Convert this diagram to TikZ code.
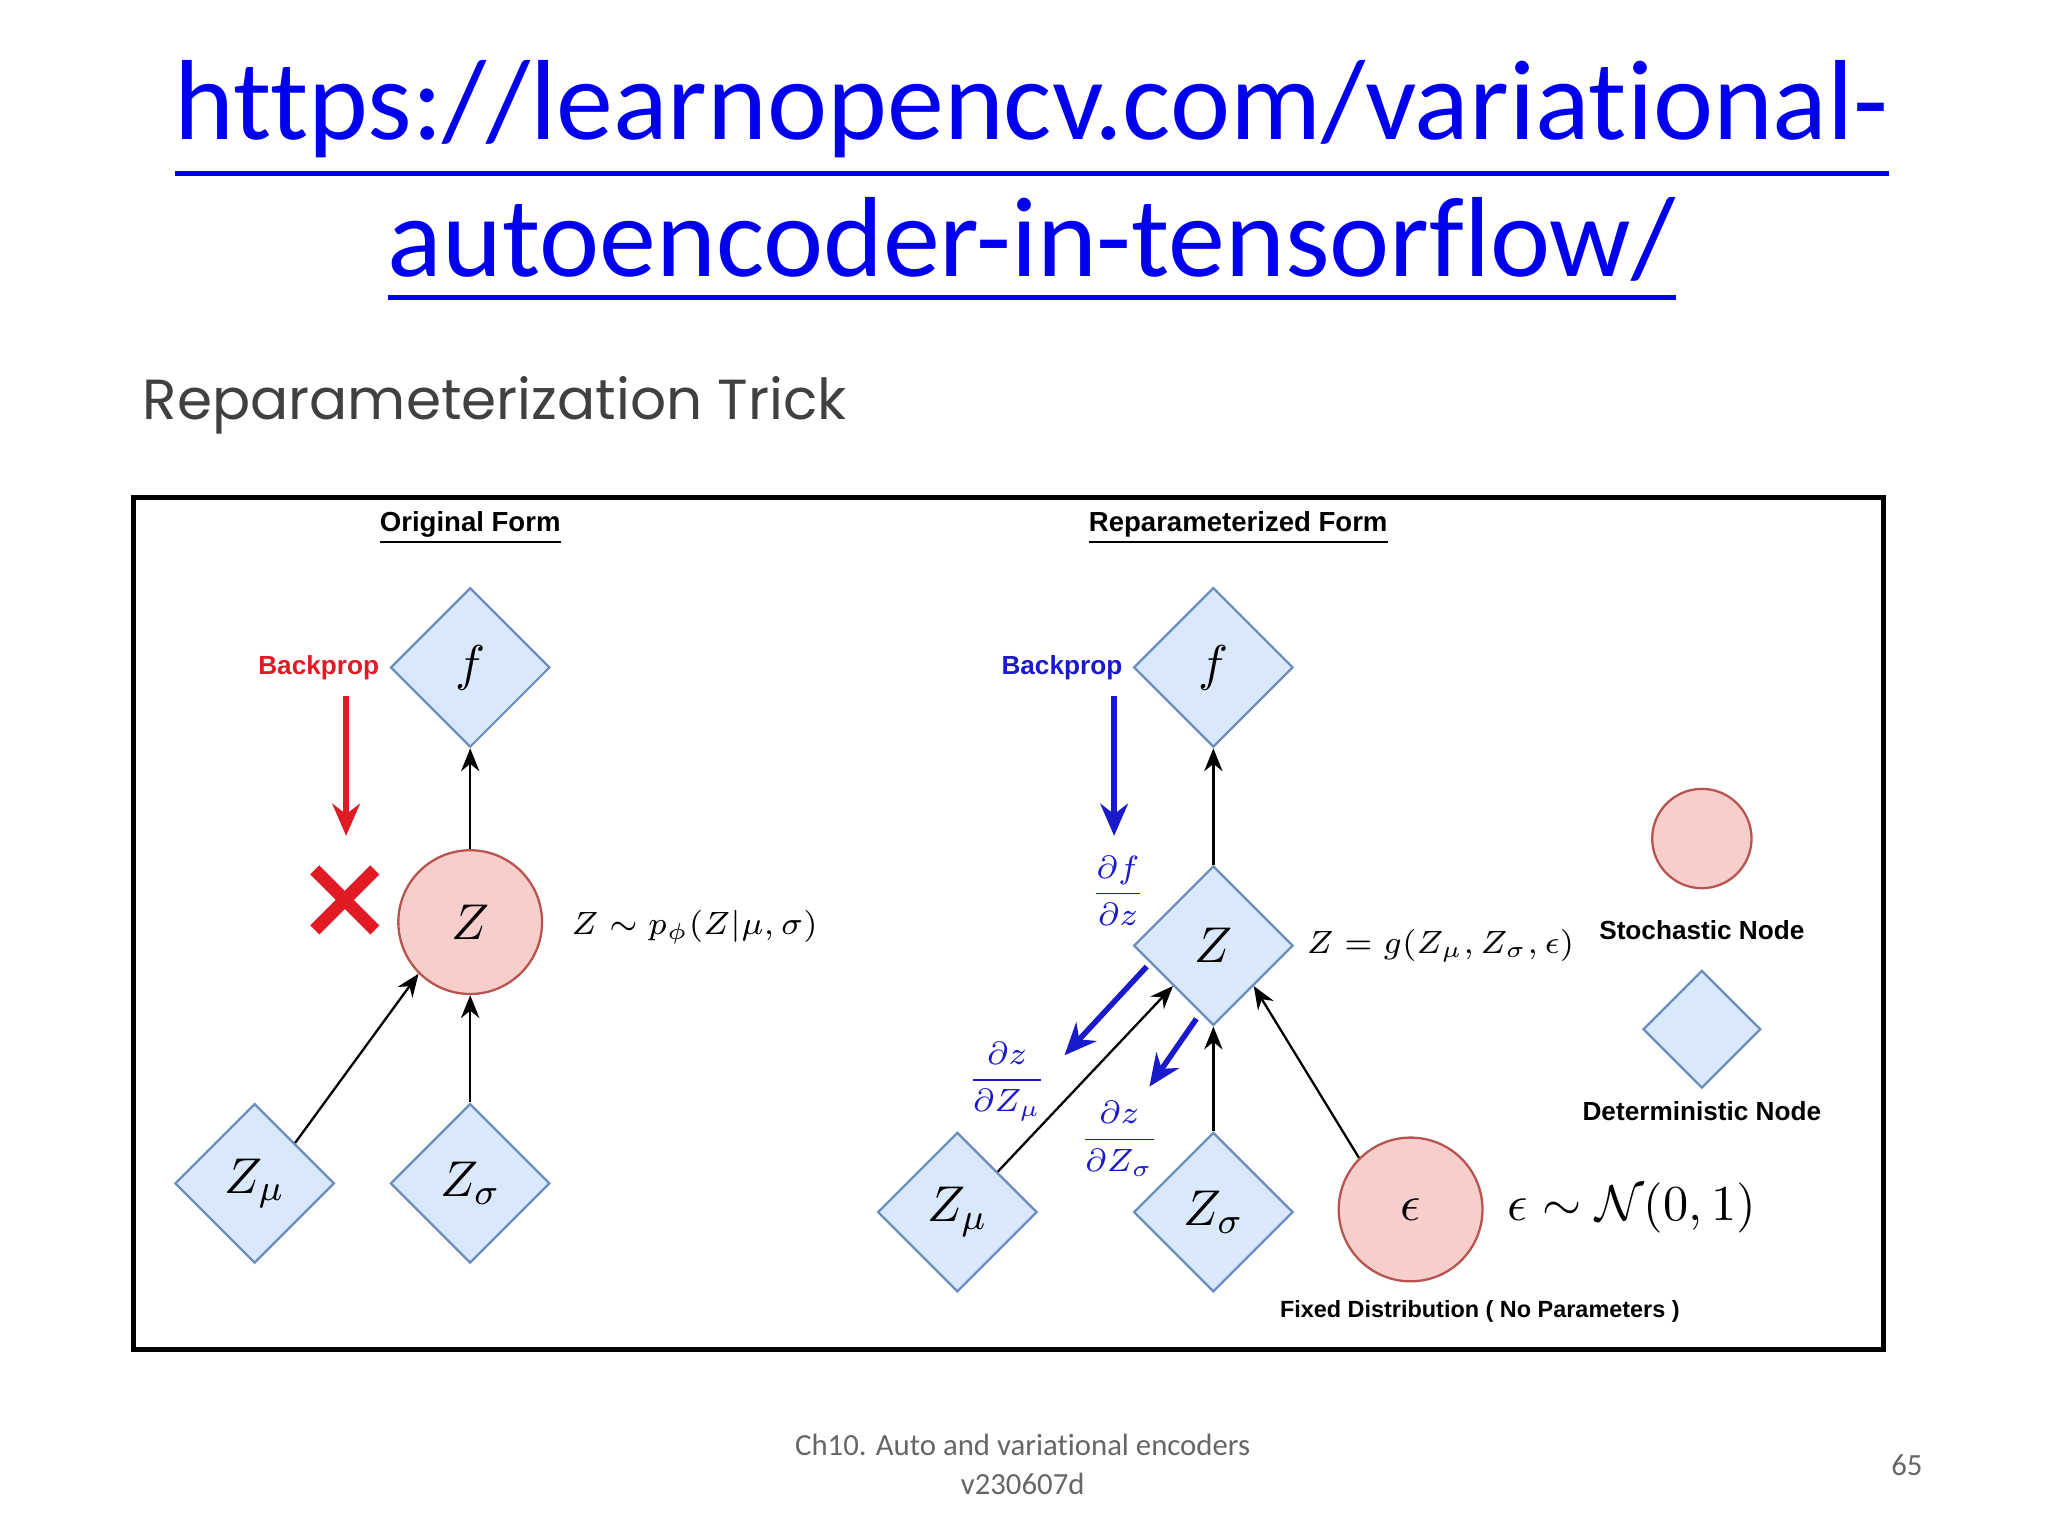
\documentclass[tikz,border=0pt]{standalone}
\usepackage{amsmath}
\usepackage{fontspec}
\setmainfont[Ligatures=NoCommon]{Carlito}
\newfontfamily\labfont{Liberation Sans}
\newfontfamily\titfont{Poppins}
\usetikzlibrary{shapes.geometric,arrows.meta,calc}
\definecolor{dfill}{HTML}{DAE8FC}\definecolor{ddraw}{HTML}{6C8EBF}
\definecolor{cfill}{HTML}{F8CECC}\definecolor{cdraw}{HTML}{B85450}
\definecolor{urlblue}{HTML}{0000EE}\definecolor{bpblue}{HTML}{1A1ACC}
\definecolor{bpred}{HTML}{E01B24}
\begin{document}
\begin{tikzpicture}[x=0.01cm,y=-0.01cm,
 dnode/.style={diamond,aspect=1,fill=dfill,draw=ddraw,line width=0.5pt,minimum size=#1,inner sep=0pt,font=\fontsize{11}{12}\selectfont},
 dnode/.default=1.22cm,
 cnode/.style={circle,fill=cfill,draw=cdraw,line width=0.5pt,minimum size=#1,inner sep=0pt,font=\fontsize{11}{12}\selectfont},
 cnode/.default=1.1cm,
 arr/.style={-{Stealth[length=5pt,width=4pt]},line width=0.5pt},
 barr/.style={-{Stealth[length=7pt,width=6pt]},line width=1.2pt,color=bpblue},
 lab/.style={font=\labfont\bfseries\fontsize{5.7}{7}\selectfont},
 mlab/.style={font=\fontsize{7.4}{9}\selectfont}]
\useasboundingbox (0,0) rectangle (1568,1176);
\node[urlblue,font=\fontsize{24.8}{28}\selectfont] (u1) at (790,92) {\underline{https://learnopencv.com/variational-}};
\node[urlblue,font=\fontsize{24.8}{28}\selectfont] (u2) at (790,192) {\underline{autoencoder-in-tensorflow/}};
\node[anchor=west,text=black!75,font=\titfont\fontsize{12.3}{14}\selectfont] (t) at (97,310) {Reparameterization Trick};
\draw[line width=1pt] (102,381) rectangle (1442,1033);
\node[lab,font=\labfont\bfseries\fontsize{6}{7}\selectfont] (of) at (360,404) {\underline{Original Form}};
\node[lab,font=\labfont\bfseries\fontsize{6}{7}\selectfont] (rf) at (948,404) {\underline{Reparameterized Form}};
% left
\node[dnode] (f1) at (360,511) {$f$};
\node[cnode] (z1) at (360,706) {$Z$};
\node[dnode] (zm1) at (195,906) {$Z_\mu$};
\node[dnode] (zs1) at (360,906) {$Z_\sigma$};
\node[lab,text=bpred] (bp1) at (244,511) {Backprop};
\coordinate (bp1e) at (265,640);
\draw[-{Stealth[length=7pt,width=6pt]},line width=1.2pt,bpred] (bp1.south-|bp1e) -- (bp1e);
\coordinate (x1) at (264,689);
\draw[bpred,line width=2.8pt] ($(x1)+(-23,-23)$) -- ($(x1)+(23,23)$) ($(x1)+(-23,23)$) -- ($(x1)+(23,-23)$);
\node[mlab,anchor=west] (l1) at (425,710) {$Z\sim p_\phi(Z|\mu,\sigma)$};
\draw[arr] (zm1.north east) -- (z1.south west);
\draw[arr] (zs1.north) -- (z1.south);
\draw[arr] (z1.north) -- (f1.south);
% right
\node[dnode] (f2) at (929,511) {$f$};
\node[dnode] (z2) at (929,724) {$Z$};
\node[dnode] (zm2) at (733,928) {$Z_\mu$};
\node[dnode] (zs2) at (929,928) {$Z_\sigma$};
\node[cnode] (e2) at (1080,926) {$\epsilon$};
\node[mlab,anchor=west] (l2) at (988,724) {$Z=g(Z_\mu,Z_\sigma,\epsilon)$};
\node[anchor=west,font=\fontsize{10.5}{12}\selectfont] (l3) at (1142,925) {$\epsilon\sim\mathcal{N}(0,1)$};
\node[lab,text=bpblue] (bp2) at (813,511) {Backprop};
\coordinate (bp2e) at (853,640);
\draw[barr] (bp2.south-|bp2e) -- (bp2e);
\node[bpblue,mlab] (d1) at (856,682) {$\dfrac{\partial f}{\partial z}$};
\node[bpblue,mlab] (d2) at (771,828) {$\dfrac{\partial z}{\partial Z_\mu}$};
\node[bpblue,mlab] (d3) at (857,872) {$\dfrac{\partial z}{\partial Z_\sigma}$};
\coordinate (b1s) at (878,740); \coordinate (b1e) at (815,808);
\coordinate (b2s) at (916,780); \coordinate (b2e) at (880,832);
\draw[barr] (b1s) -- (b1e);
\draw[barr] (b2s) -- (b2e);
\draw[arr] (zm2.north east) -- ($(z2.west)!0.5!(z2.south)$);
\draw[arr] (zs2.north) -- (z2.south);
\draw[arr] (e2.north west) -- ($(z2.east)!0.5!(z2.south)$);
\draw[arr] (z2.north) -- (f2.south);
% legend
\node[cnode=0.76cm] (lc) at (1303,642) {};
\node[lab] (lct) at (1303,712) {Stochastic Node};
\node[dnode=0.9cm] (ld) at (1303,788) {};
\node[lab] (ldt) at (1303,851) {Deterministic Node};
\node[lab,font=\labfont\bfseries\fontsize{5.1}{6}\selectfont] (fd) at (1133,1004) {Fixed Distribution ( No Parameters )};
% footer
\node[text=black!60,font=\fontsize{6.7}{8.5}\selectfont,align=center] (ft) at (783,1121) {Ch10. Auto and variational encoders\\v230607d};
\node[text=black!60,font=\fontsize{6.7}{8}\selectfont] (pg) at (1460,1122) {65};
\end{tikzpicture}
\end{document}
